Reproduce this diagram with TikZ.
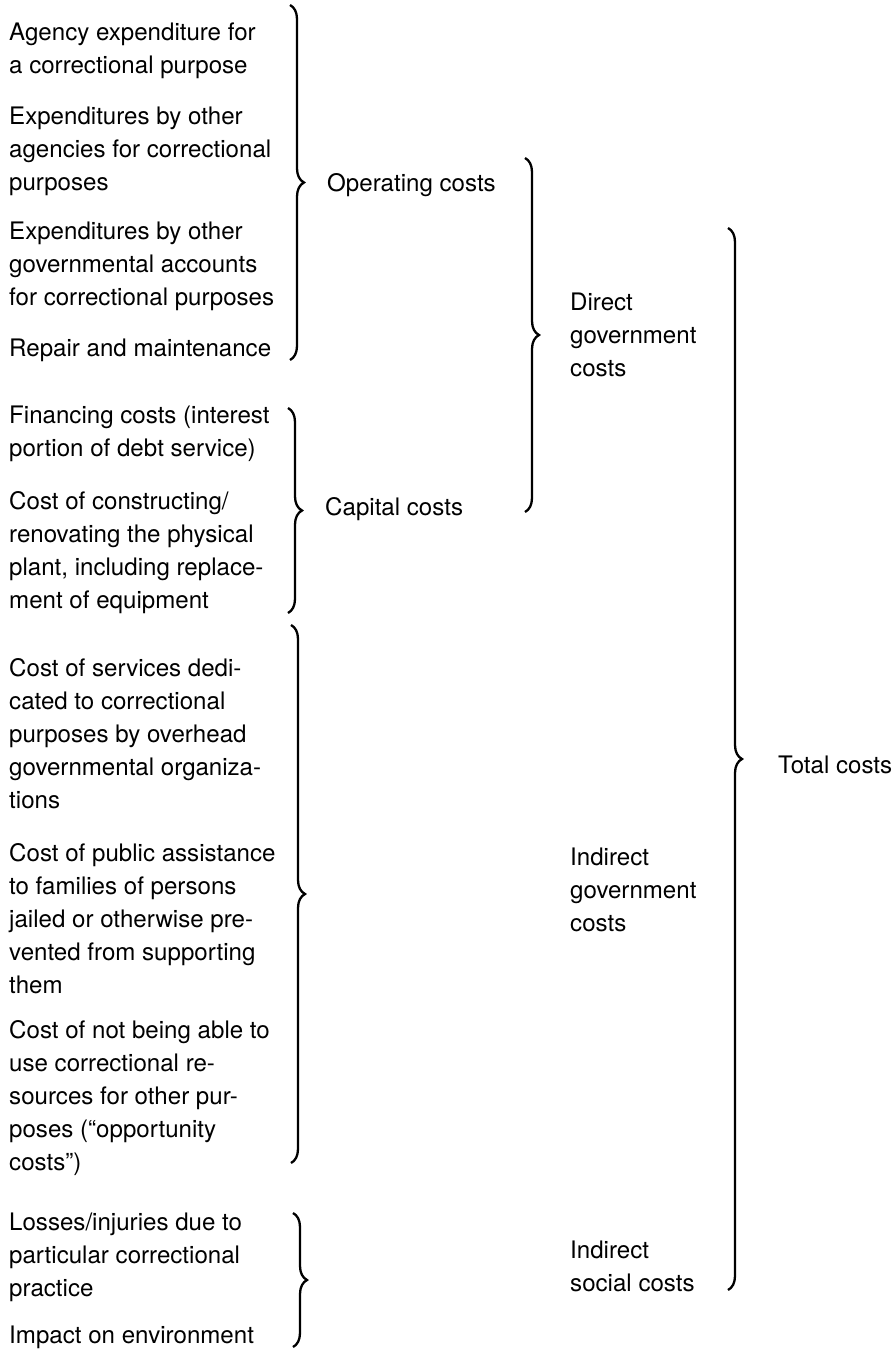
\documentclass[tikz,border=0pt]{standalone}
\usepackage{fontspec}
\setmainfont{TeX Gyre Heros}
\usetikzlibrary{decorations.pathreplacing,positioning}

\begin{document}
\begin{tikzpicture}[x=1pt,y=-1pt,
  item/.style={anchor=base west,inner sep=0pt,align=left,font=\fontsize{24.1}{33}\selectfont},
  lab/.style={item},
  brc/.style={decorate,decoration={brace,amplitude=14pt},line width=2.3pt}]
  \useasboundingbox (0,0) rectangle (895,1349);

  % cost items, left column (placed by the baseline of their last line)
  \node[item] (op1) at (9,73.5) {Agency expenditure for\\a correctional purpose};
  \node[item] (op2) at (9,190.5) {Expenditures by other\\agencies for correctional\\purposes};
  \node[item] (op3) at (9,305.5) {Expenditures by other\\governmental accounts\\for correctional purposes};
  \node[item] (op4) at (9,356.5) {Repair and maintenance};
  \node[item] (cap1) at (9,456.5) {Financing costs (interest\\portion of debt service)};
  \node[item] (cap2) at (9,608.5) {Cost of constructing/\\renovating the physical\\plant, including replace-\\ment of equipment};
  \node[item] (ind1) at (9,808.5) {Cost of services dedi-\\cated to correctional\\purposes by overhead\\governmental organiza-\\tions};
  \node[item] (ind2) at (9,993.5) {Cost of public assistance\\to families of persons\\jailed or otherwise pre-\\vented from supporting\\them};
  \node[item] (ind3) at (9,1170.5) {Cost of not being able to\\use correctional re-\\sources for other pur-\\poses (“opportunity\\costs”)};
  \node[item] (soc1) at (9,1296.5) {Losses/injuries due to\\particular correctional\\practice};
  \node[item] (soc2) at (9,1343.5) {Impact on environment};

  % first level braces
  \coordinate (opTop) at (290,5);     \coordinate (opBot) at (290,360);
  \coordinate (capTop) at (288,408);  \coordinate (capBot) at (288,613);
  \coordinate (indTop) at (291,625);  \coordinate (indBot) at (291,1163);
  \coordinate (socTop) at (293,1213); \coordinate (socBot) at (293,1347);
  \draw[brc] (opTop) -- (opBot);
  \draw[brc] (capTop) -- (capBot);
  \draw[brc] (indTop) -- (indBot);
  \draw[brc] (socTop) -- (socBot);
  \node[lab] (oper) at (327,191.5) {Operating costs};
  \node[lab] (capi) at (325,515.5) {Capital costs};

  % second level
  \coordinate (dirTop) at (525,158);  \coordinate (dirBot) at (525,512);
  \draw[brc] (dirTop) -- (dirBot);
  \node[lab] (direct) at (570,376.5) {Direct\\government\\costs};
  \node[lab] (indgov) at (570,931.5) {Indirect\\government\\costs};
  \node[lab] (indsoc) at (570,1291.5) {Indirect\\social costs};

  % total
  \coordinate (totTop) at (728,228);  \coordinate (totBot) at (728,1290);
  \draw[brc] (totTop) -- (totBot);
  \node[lab] (total) at (778,773.5) {Total costs};
\end{tikzpicture}
\end{document}
